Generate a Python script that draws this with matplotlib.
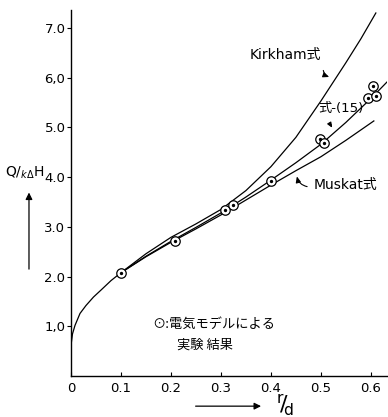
import matplotlib
matplotlib.use("Agg")
import matplotlib.pyplot as plt

plt.rcParams["font.family"] = ["DejaVu Sans", "Noto Sans CJK JP"]

# ---- data ----
# common steep start (r/d -> 0)
base_x = [0.0, 0.003, 0.008, 0.018, 0.03, 0.045, 0.06, 0.08, 0.10]
base_y = [0.62, 0.85, 1.02, 1.26, 1.42, 1.59, 1.73, 1.92, 2.08]

kirkham_x = [0.10, 0.15, 0.20, 0.25, 0.30, 0.35, 0.40, 0.45, 0.50, 0.55, 0.58, 0.61]
kirkham_y = [2.08, 2.46, 2.79, 3.06, 3.35, 3.73, 4.21, 4.80, 5.53, 6.30, 6.78, 7.30]

eq15_x = [0.10, 0.15, 0.20, 0.25, 0.30, 0.35, 0.40, 0.45, 0.50, 0.55, 0.60, 0.634]
eq15_y = [2.08, 2.41, 2.71, 2.99, 3.28, 3.60, 3.94, 4.29, 4.66, 5.10, 5.58, 5.93]

muskat_x = [0.10, 0.15, 0.20, 0.25, 0.30, 0.35, 0.40, 0.45, 0.50, 0.55, 0.606]
muskat_y = [2.08, 2.40, 2.69, 2.96, 3.24, 3.54, 3.84, 4.13, 4.41, 4.74, 5.13]

# electric model experiment results
exp_x = [0.101, 0.208, 0.308, 0.325, 0.401, 0.498, 0.506, 0.595, 0.610, 0.605]
exp_y = [2.07, 2.72, 3.34, 3.44, 3.92, 4.77, 4.69, 5.60, 5.63, 5.84]

xticks = [0, 0.1, 0.2, 0.3, 0.4, 0.5, 0.6]
xtick_labels = ["0", "0.1", "0.2", "0.3", "0.4", "0.5", "0.6"]
yticks = [1, 2, 3, 4, 5, 6, 7]
ytick_labels = ["1,0", "2.0", "3.0", "4.0", "5.0", "6,0", "7.0"]

# ---- figure ----
fig = plt.figure(figsize=(3.88, 4.17), dpi=100)
ax = fig.add_axes([0.183, 0.098, 0.814, 0.878])

lw = 0.9
ax.plot(base_x, base_y, color="black", lw=lw)
ax.plot(kirkham_x, kirkham_y, color="black", lw=lw)
ax.plot(eq15_x, eq15_y, color="black", lw=lw)
ax.plot(muskat_x, muskat_y, color="black", lw=lw)

ax.plot(exp_x, exp_y, ls="none", marker="o", ms=6.8, mfc="white",
        mec="black", mew=0.9, zorder=3)
ax.plot(exp_x, exp_y, ls="none", marker="o", ms=1.4, color="black", zorder=4)

ax.set_xlim(0, 0.632)
ax.set_ylim(0, 7.36)
for s in ("top", "right"):
    ax.spines[s].set_visible(False)
for s in ("left", "bottom"):
    ax.spines[s].set_linewidth(1.0)

ax.set_xticks(xticks)
ax.set_xticklabels(xtick_labels, fontsize=9.5)
ax.set_yticks(yticks)
ax.set_yticklabels(ytick_labels, fontsize=9.5)
ax.tick_params(axis="x", direction="in", length=3, width=0.8, pad=4)
ax.tick_params(axis="y", direction="out", length=3, width=0.8, pad=1)

# curve labels
ax.text(0.358, 6.46, "Kirkham式", fontsize=10, va="center", ha="left")
ax.annotate("", xy=(0.522, 6.0), xytext=(0.504, 6.2),
            arrowprops=dict(arrowstyle="-|>,head_length=0.35,head_width=0.15",
                            color="black", lw=0.8,
                            connectionstyle="arc3,rad=0.4"))

ax.text(0.494, 5.39, "式-(15)", fontsize=9.5, va="center", ha="left")
ax.annotate("", xy=(0.526, 4.95), xytext=(0.521, 5.12),
            arrowprops=dict(arrowstyle="-|>,head_length=0.3,head_width=0.13",
                            color="black", lw=0.8,
                            connectionstyle="arc3,rad=0.3"))

ax.text(0.486, 3.84, "Muskat式", fontsize=10, va="center", ha="left")
ax.annotate("", xy=(0.451, 4.07), xytext=(0.478, 3.80),
            arrowprops=dict(arrowstyle="-|>,head_length=0.35,head_width=0.15",
                            color="black", lw=0.8,
                            connectionstyle="arc3,rad=-0.4"))

# legend note
ax.text(0.162, 1.03, "⊙:電気モデルによる", fontsize=9.5, va="center", ha="left",
        family=["Noto Sans CJK JP", "DejaVu Sans"])
ax.text(0.212, 0.62, "実験 結果", fontsize=9.5, va="center", ha="left",
        family=["Noto Sans CJK JP", "DejaVu Sans"])

# axis labels with arrows
fig.text(0.013, 0.585, r"Q/$_{k\Delta}$H", fontsize=10, va="center", ha="left")
fig.add_artist(matplotlib.patches.FancyArrowPatch(
    (0.0747, 0.348), (0.0747, 0.545), transform=fig.transFigure,
    arrowstyle="-|>,head_length=4,head_width=2", color="black", lw=0.9,
    mutation_scale=1))
fig.add_artist(matplotlib.patches.FancyArrowPatch(
    (0.497, 0.026), (0.68, 0.026), transform=fig.transFigure,
    arrowstyle="-|>,head_length=4,head_width=2", color="black", lw=0.9,
    mutation_scale=1))
fig.text(0.712, 0.028, r"$^{\mathrm{r}}\!/\!_{\mathrm{d}}$", fontsize=16,
         va="center", ha="left")

fig.savefig("out.png", dpi=100)
